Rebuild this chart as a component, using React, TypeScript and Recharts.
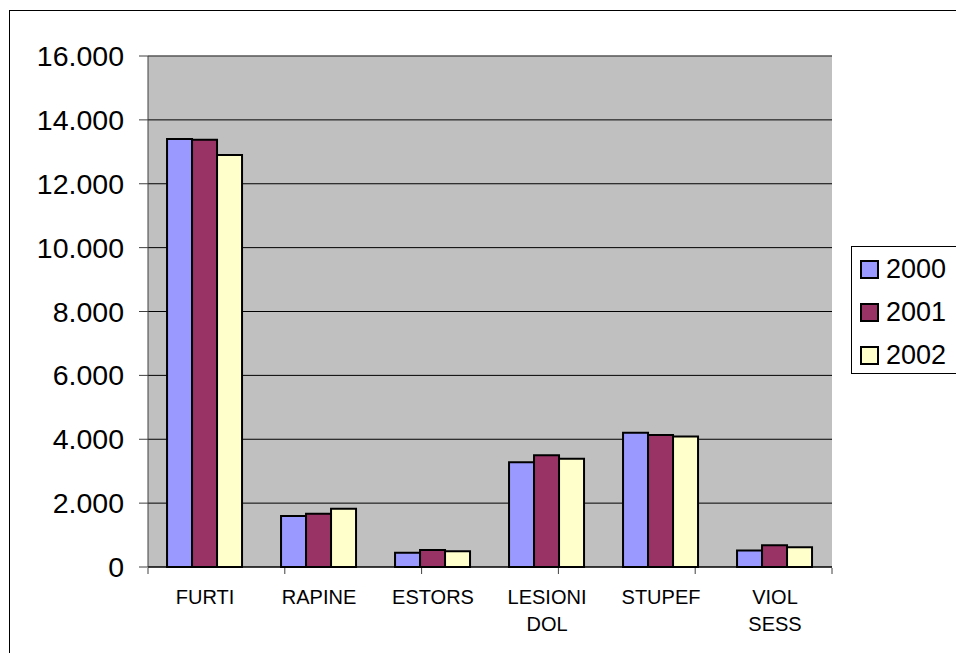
import { Bar, BarChart, CartesianGrid, Legend, ReferenceLine, XAxis, YAxis } from "recharts";

const categories = ["FURTI", "RAPINE", "ESTORS", "LESIONI\nDOL", "STUPEF", "VIOL\nSESS"];
const years = ["2000", "2001", "2002"];
const values2000 = [13400, 1600, 450, 3280, 4200, 520];
const values2001 = [13380, 1670, 530, 3500, 4130, 680];
const values2002 = [12900, 1820, 490, 3390, 4090, 620];
const yTicks = [0, 2000, 4000, 6000, 8000, 10000, 12000, 14000, 16000];
const edgeTicks = [0, 1, 2, 3, 4, 5, 6];

const colors = ["#9999FF", "#993366", "#FFFFCC"];
const font = "'Liberation Sans', Arial, sans-serif";

const data = categories.map((name, i) => ({
  name,
  "2000": values2000[i],
  "2001": values2001[i],
  "2002": values2002[i],
}));

const formatThousands = (v: number) => String(v).replace(/\B(?=(\d{3})+(?!\d))/g, ".");

function CategoryTick({ x, y, payload }: any) {
  const lines = String(payload.value).split("\n");
  return (
    <text x={x} y={y} textAnchor="middle" fontSize={20} fontFamily={font} fill="#000">
      {lines.map((line, i) => (
        <tspan key={i} x={x} dy={i === 0 ? 35 : 26.5}>
          {line}
        </tspan>
      ))}
    </text>
  );
}

function LegendBox({ payload }: any) {
  return (
    <div
      style={{
        border: "1px solid #000",
        background: "#fff",
        width: 120,
        height: 128,
        boxSizing: "border-box",
        paddingLeft: 8,
        paddingTop: 1,
        fontFamily: font,
        fontSize: 27,
        lineHeight: "43px",
      }}
    >
      {(payload || []).map((p: any) => (
        <div key={p.value} style={{ display: "flex", alignItems: "center", height: 43 }}>
          <span
            style={{
              width: 19,
              height: 19,
              boxSizing: "border-box",
              border: "2px solid #000",
              background: p.color,
              marginRight: 7,
            }}
          />
          <span>{p.value}</span>
        </div>
      ))}
    </div>
  );
}

export default function App() {
  return (
    <div
      style={{
        position: "fixed",
        left: 0,
        top: 0,
        width: 956,
        height: 653,
        overflow: "hidden",
        background: "#fff",
      }}
    >
      <div
        style={{
          position: "absolute",
          left: 9,
          top: 10,
          width: 1000,
          height: 700,
          borderLeft: "1px solid #000",
          borderTop: "1px solid #000",
        }}
      />
      <BarChart
        width={956}
        height={653}
        data={data}
        margin={{ top: 56, right: 124, bottom: 84, left: 0 }}
        barCategoryGap="16.7%"
        barGap={0}
        style={{ position: "absolute", left: 0, top: 0 }}
      >
        <CartesianGrid vertical={false} stroke="#000" fill="#C0C0C0" />
        <XAxis
          dataKey="name"
          height={1}
          tickSize={0}
          tickLine={false}
          axisLine={{ stroke: "#000" }}
          tick={<CategoryTick />}
          interval={0}
        />
        <XAxis
          xAxisId="edges"
          type="number"
          domain={[0, 6]}
          ticks={edgeTicks}
          height={1}
          axisLine={false}
          tickSize={6}
          tickLine={{ stroke: "#404040" }}
          tick={() => <g />}
        />
        <YAxis
          width={148}
          domain={[0, 16000]}
          ticks={yTicks}
          interval={0}
          tickFormatter={formatThousands}
          tickSize={9}
          tickMargin={15}
          axisLine={{ stroke: "#404040" }}
          tickLine={{ stroke: "#404040" }}
          tick={{ fill: "#000", fontSize: 28.5, fontFamily: font }}
        />
        <ReferenceLine y={16000} stroke="#808080" />
        <ReferenceLine x={6} xAxisId="edges" stroke="#808080" />
        {years.map((year, i) => (
          <Bar
            key={year}
            dataKey={year}
            fill={colors[i]}
            stroke="#000"
            strokeWidth={2}
            isAnimationActive={false}
          />
        ))}
        <Legend
          layout="vertical"
          align="center"
          verticalAlign="middle"
          content={<LegendBox />}
          wrapperStyle={{ left: 851, top: 246, width: 120 }}
        />
      </BarChart>
    </div>
  );
}
